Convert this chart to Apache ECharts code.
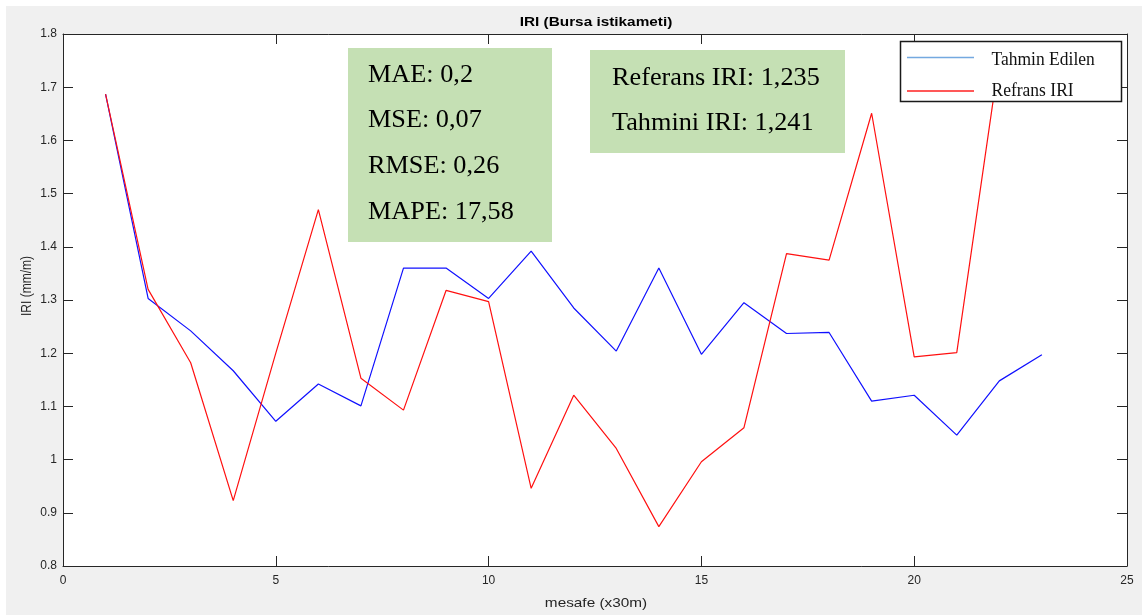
<!DOCTYPE html>
<html>
<head>
<meta charset="utf-8">
<title>IRI (Bursa istikameti)</title>
<script src="https://cdn.jsdelivr.net/npm/echarts@6/dist/echarts.min.js"></script>
<style>
  html, body { margin: 0; padding: 0; background: #ffffff; }
  #chart { width: 1142px; height: 615px; }
</style>
</head>
<body>
<div id="chart"></div>
<script>
// Distance index along the route (each step = 30 m)
const distance = [1, 2, 3, 4, 5, 6, 7, 8, 9, 10, 11, 12, 13, 14, 15, 16, 17, 18, 19, 20, 21, 22, 23];

// Predicted IRI (mm/m)
const predictedIRI = [1.687, 1.303, 1.242, 1.167, 1.072, 1.142, 1.101, 1.360, 1.360, 1.303, 1.392, 1.285,
                      1.204, 1.360, 1.198, 1.295, 1.237, 1.239, 1.110, 1.121, 1.046, 1.148, 1.197];

// Reference IRI (mm/m)
const referenceIRI = [1.687, 1.320, 1.182, 0.923, 1.200, 1.470, 1.153, 1.093, 1.318, 1.297, 0.946, 1.121,
                      1.021, 0.874, 0.996, 1.060, 1.387, 1.375, 1.651, 1.193, 1.201, 1.755];

// Axis ranges
const xRange = { min: 0, max: 25, step: 5 };
const yRange = { min: 0.8, max: 1.8, step: 0.1 };

// Text blocks
const seriesNames = ['Tahmin Edilen', 'Refrans IRI'];
const errorLines = ['MAE: 0,2', 'MSE: 0,07', 'RMSE: 0,26', 'MAPE: 17,58'];
const meanLines = ['Referans IRI: 1,235', 'Tahmini IRI: 1,241'];
const titleText = 'IRI (Bursa istikameti)';
const xName = 'mesafe (x30m)';
const yName = 'IRI (mm/m)';

const SANS = '"Liberation Sans", Arial, Helvetica, sans-serif';
const SERIF = '"Liberation Serif", "Times New Roman", serif';
const AXIS_COLOR = '#262626';
const BOX_GREEN = '#c5e0b4';
const TOP_Z = 100;

const chart = echarts.init(document.getElementById('chart'), null, { renderer: 'canvas' });

function pairs(xs, ys) {
  return ys.map((y, i) => [xs[i], y]);
}

function axisCommon(showLabel) {
  return {
    type: 'value',
    axisLine: { show: true, onZero: false, lineStyle: { color: AXIS_COLOR, width: 1 } },
    axisTick: { show: true, inside: true, length: 10, lineStyle: { color: AXIS_COLOR, width: 1 } },
    splitLine: { show: false },
    axisLabel: {
      show: showLabel,
      color: AXIS_COLOR,
      fontFamily: SANS,
      fontSize: 12
    }
  };
}

function boxText(t, x, y) {
  return {
    type: 'text', z: TOP_Z + 1,
    x: x, y: y, scaleX: 1.05,
    style: { text: t, x: 0, y: 0, font: '25px ' + SERIF, fill: '#000', align: 'left', verticalAlign: 'middle' }
  };
}

// Green annotation boxes
const errorBoxItems = [
  { type: 'rect', z: TOP_Z, shape: { x: 348, y: 48, width: 204, height: 194 }, style: { fill: BOX_GREEN } }
].concat(errorLines.map((t, i) => boxText(t, 368, 75 + i * 45.8)));

const meanBoxItems = [
  { type: 'rect', z: TOP_Z, shape: { x: 590, y: 50, width: 255, height: 103 }, style: { fill: BOX_GREEN } }
].concat(meanLines.map((t, i) => boxText(t, 612, 78 + i * 45.3)));

// Legend panel
const legendColors = ['#74a9e0', '#ff2020'];
const legendItems = [
  { type: 'rect', z: TOP_Z, shape: { x: 900.5, y: 41.5, width: 221, height: 60 },
    style: { fill: '#ffffff', stroke: '#1a1a1a', lineWidth: 1.5 } }
].concat(seriesNames.flatMap((name, i) => [
  { type: 'line', z: TOP_Z + 1, shape: { x1: 907, y1: 57.5 + i * 33.5, x2: 974, y2: 57.5 + i * 33.5 },
    style: { stroke: legendColors[i], lineWidth: 1.5 } },
  { type: 'text', z: TOP_Z + 1, x: 991.5, y: 60 + i * 31, scaleY: 1.12,
    style: { text: name, x: 0, y: 0, font: '17.5px ' + SERIF, fill: '#111', align: 'left', verticalAlign: 'middle' } }
]));

const option = {
  animation: false,
  backgroundColor: '#ffffff',
  grid: {
    left: 63, right: 15, top: 34, bottom: 49,
    containLabel: false,
    show: true,
    backgroundColor: '#ffffff',
    borderWidth: 0
  },
  xAxis: [
    Object.assign(axisCommon(true), {
      position: 'bottom',
      min: xRange.min, max: xRange.max, interval: xRange.step,
      axisLabel: Object.assign(axisCommon(true).axisLabel, { margin: 9 })
    }),
    Object.assign(axisCommon(false), {
      position: 'top',
      min: xRange.min, max: xRange.max, interval: xRange.step
    })
  ],
  yAxis: [
    Object.assign(axisCommon(true), {
      position: 'left',
      min: yRange.min, max: yRange.max, interval: yRange.step,
      axisLabel: Object.assign(axisCommon(true).axisLabel, {
        margin: 6,
        formatter: v => (Math.round(v * 10) / 10).toString()
      })
    }),
    Object.assign(axisCommon(false), {
      position: 'right',
      min: yRange.min, max: yRange.max, interval: yRange.step
    })
  ],
  series: [
    {
      name: seriesNames[0],
      type: 'line',
      data: pairs(distance, predictedIRI),
      showSymbol: false,
      symbol: 'none',
      lineStyle: { color: '#1010ff', width: 1.2 },
      z: 2
    },
    {
      name: seriesNames[1],
      type: 'line',
      data: pairs(distance, referenceIRI),
      showSymbol: false,
      symbol: 'none',
      lineStyle: { color: '#ff1010', width: 1.2 },
      z: 3
    }
  ],
  graphic: {
    z: TOP_Z,
    elements: [
      // figure background
      { type: 'rect', z: -100, zlevel: -1, silent: true, shape: { x: 6, y: 6, width: 1136, height: 609 }, style: { fill: '#f0f0f0' } },
      // title
      { type: 'text', z: 10, x: 596, y: 22, scaleX: 1.18,
        style: { text: titleText, x: 0, y: 0, font: 'bold 13px ' + SANS, fill: '#000', align: 'center', verticalAlign: 'middle' } },
      // x-axis name
      { type: 'text', z: 10, x: 596, y: 603, scaleX: 1.18,
        style: { text: xName, x: 0, y: 0, font: '13px ' + SANS, fill: AXIS_COLOR, align: 'center', verticalAlign: 'middle' } },
      // y-axis name
      { type: 'text', z: 10, x: 27, y: 286, rotation: Math.PI / 2, scaleY: 1.15,
        style: { text: yName, x: 0, y: 0, font: '12px ' + SANS, fill: AXIS_COLOR, align: 'center', verticalAlign: 'middle' } }
    ].concat(errorBoxItems, meanBoxItems, legendItems)
  }
};

chart.setOption(option);
</script>
</body>
</html>
